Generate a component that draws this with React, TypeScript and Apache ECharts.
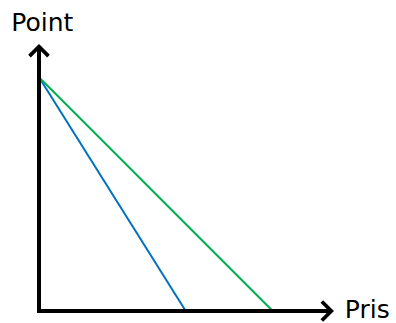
import React, { useEffect, useRef } from "react";
import * as echarts from "echarts";

// Data (arbitrary units: axis spans 0–100)
const xAxisName = "Pris";
const yAxisName = "Point";
const blueX = [0, 50.6];
const blueY = [88.9, 0];
const greenX = [0, 80.6];
const greenY = [88.9, 0];
const xRange = [0, 100];
const yRange = [0, 100];

const chevron =
  "path://M11.4,0 L22.8,11.4 L20,14.2 L11.4,5.6 L2.8,14.2 L0,11.4 Z";

const toPairs = (xs: number[], ys: number[]) => xs.map((x, i) => [x, ys[i]]);

export default function App() {
  const ref = useRef<HTMLDivElement>(null);
  useEffect(() => {
    if (!ref.current) return;
    const chart = echarts.init(ref.current, undefined, { renderer: "svg" });
    const axisLine = (offset: number) => ({
      show: true,
      onZero: false,
      symbol: ["none", chevron],
      symbolSize: [22, 13.5],
      symbolOffset: [0, offset],
      lineStyle: { color: "#000", width: 4, cap: "square" },
    });
    chart.setOption({
      animation: false,
      backgroundColor: "#fff",
      grid: { left: 39, right: 67, top: 48, bottom: 12 },
      xAxis: {
        type: "value",
        min: xRange[0],
        max: xRange[1],
        z: 5,
        axisLine: axisLine(-1.75),
        axisTick: { show: false },
        axisLabel: { show: false },
        splitLine: { show: false },
      },
      yAxis: {
        type: "value",
        min: yRange[0],
        max: yRange[1],
        z: 5,
        axisLine: axisLine(-2.75),
        axisTick: { show: false },
        axisLabel: { show: false },
        splitLine: { show: false },
      },
      series: [
        {
          type: "line",
          data: toPairs(blueX, blueY),
          showSymbol: false,
          lineStyle: { color: "#0070C0", width: 2 },
          itemStyle: { color: "#0070C0" },
        },
        {
          type: "line",
          data: toPairs(greenX, greenY),
          showSymbol: false,
          lineStyle: { color: "#00B050", width: 2 },
          itemStyle: { color: "#00B050" },
        },
      ],
      graphic: [
        {
          type: "text",
          x: 11.2,
          y: 22.6,
          style: {
            text: yAxisName,
            fill: "#000",
            font: "25px 'DejaVu Sans'",
            align: "left",
            verticalAlign: "middle",
          },
        },
        {
          type: "text",
          x: 344.8,
          y: 309.6,
          style: {
            text: xAxisName,
            fill: "#000",
            font: "25px 'DejaVu Sans'",
            align: "left",
            verticalAlign: "middle",
          },
        },
      ],
    });
    return () => chart.dispose();
  }, []);
  return (
    <div
      ref={ref}
      style={{ position: "fixed", left: 0, top: 0, width: 396, height: 323 }}
    />
  );
}
